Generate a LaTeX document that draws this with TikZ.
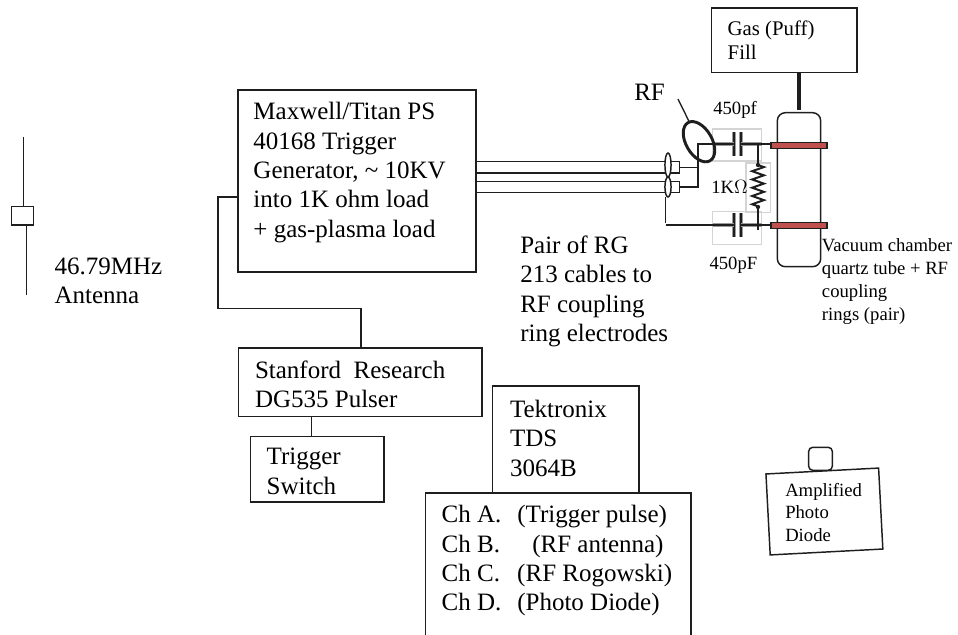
\documentclass[tikz,border=0pt]{standalone}
\usepackage{fontspec}
\setmainfont{Liberation Serif}
\usetikzlibrary{shapes.geometric,decorations.pathmorphing}
\definecolor{ink}{HTML}{1E1E1E}
\definecolor{ringred}{HTML}{C0504D}
\definecolor{hazegrey}{HTML}{D4D4D4}
\definecolor{blurgrey}{HTML}{9A9A9A}

\begin{document}
\begin{tikzpicture}[x=0.75pt, y=-0.75pt]
  % one unit is one pixel of the reference, y runs downward
  \useasboundingbox (0,0) rectangle (958,635);
  \def\flarge{\fontsize{18.75}{22}\selectfont}
  \def\fgas{\fontsize{15.6}{18}\selectfont}
  \def\fsmall{\fontsize{14}{17.2}\selectfont}
  \tikzset{
    blockbox/.style={draw=ink, line width=1.1pt, anchor=north west, inner ysep=0pt,
                     outer sep=0pt, align=flush left, font=\flarge},
    tag/.style={anchor=base west, inner sep=0pt, align=flush left, font=\flarge},
    smalltag/.style={tag, font=\fsmall},
    plainbox/.style={draw=ink, line width=1.1pt, rectangle, inner sep=0pt, outer sep=0pt},
    wire/.style={draw=ink, line width=1.1pt},
    haze/.style={draw=hazegrey, line width=0.9pt, rectangle, inner sep=0pt, outer sep=0pt},
    plate/.style={draw=ink, line width=1.2pt},
    plateblur/.style={draw=blurgrey, line width=3pt},
    ringbar/.style={plainbox, fill=ringred, minimum width=42.2pt, minimum height=4.6pt},
    coaxend/.style={draw=ink, line width=1.1pt, fill=white, ellipse, inner sep=0pt,
                    outer sep=0pt, minimum width=4.6pt}}

  % ---------- antenna ----------
  \node[plainbox, minimum width=16.8pt, minimum height=13.8pt] (antbox) at (22.5,215.8) {};
  \coordinate (anttop) at (23.7,136.7);
  \coordinate (antlow) at (26.3,295);
  \draw[wire] (anttop) -- (anttop |- antbox.north);
  \draw[wire] (antlow |- antbox.south) -- (antlow);
  \node[tag, text width=90pt] (antlabel) at (54.3,274.3) {46.79MHz\\Antenna};

  % ---------- trigger chain ----------
  \node[blockbox, inner xsep=11.6pt, text width=155.3pt, text height=22.5pt, text depth=114pt]
    (maxwell) at (238,90)
    {Maxwell/Titan PS\\40168 Trigger\\Generator, \textasciitilde{} 10KV\\into 1K ohm load\\+ gas-plasma load};
  \node[blockbox, inner xsep=12.4pt, text width=157.8pt, text height=22.5pt, text depth=29pt]
    (stanford) at (238.5,348) {Stanford\ \ Research\\DG535 Pulser};
  \node[blockbox, inner xsep=12pt, text width=76pt, text height=21pt, text depth=28pt]
    (trigger) at (250.7,436.7) {Trigger\\Switch};

  \coordinate (trigtap) at (238,197);
  \coordinate (bendlow) at (218,308.5);
  \coordinate (stanfordtap) at (361,348);
  \coordinate (pulsertap) at (311.7,416.7);
  \draw[wire] (trigtap) -| (bendlow) -| (stanfordtap);
  \draw[wire] (pulsertap) -- (pulsertap |- trigger.north);

  % ---------- scope ----------
  \node[blockbox, inner xsep=13pt, text width=83.7pt, text height=23.5pt, text depth=56.5pt]
    (scope) at (492.7,386) {Tektronix\\TDS\\3064B};
  % bottom edge is off the page, so the outline stays open
  \node[anchor=north west, inner xsep=12.3pt, inner ysep=0pt, outer sep=0pt, align=flush left,
        font=\flarge, text width=174.7pt, text height=22.3pt, text depth=84.2pt]
    (channels) at (425.3,493)
    {Ch A.\hspace{11.9pt}(Trigger pulse)\\
     Ch B.\hspace{24.2pt}(RF antenna)\\
     Ch C.\hspace{12.9pt}(RF Rogowski)\\
     Ch D.\hspace{11.9pt}(Photo Diode)};
  \draw[wire] (channels.south west) -- (channels.north west)
              -- (channels.north east) -- (channels.south east);

  % ---------- photo diode ----------
  \node[plainbox, rotate=3, minimum width=84.6pt, minimum height=60.8pt] (diode) at (824.4,511.5) {};
  \node[plainbox, rounded corners=3pt, minimum width=17.7pt, minimum height=17.2pt] (lens) at (820.5,458.8) {};
  \node[smalltag, text width=70pt] (diodetext) at (785,496.7)
    {\fontsize{14}{16.4}\selectfont Amplified\\Photo\\Diode};

  % ---------- gas and chamber ----------
  \node[blockbox, font=\fgas, inner xsep=12pt, text width=85pt, text height=21pt, text depth=27.5pt]
    (gas) at (711.7,8) {Gas (Puff)\\Fill};
  \node[plainbox, rounded corners=6pt, minimum width=32.5pt, minimum height=115.5pt] (tube) at (799,189.7) {};
  \draw[ink, line width=3pt] (tube.north |- gas.south) -- ([yshift=2pt]tube.north);
  \node[ringbar] (ringa) at (799,145.4) {};
  \node[ringbar] (ringb) at (799,225.4) {};
  \node[smalltag, text width=105pt] (vactext) at (821.7,251.7)
    {Vacuum chamber\\quartz tube + RF\\coupling\\rings (pair)};

  % ---------- capacitors and resistor ----------
  \node[haze, minimum width=36.8pt, minimum height=24pt] (capa) at (737.2,145) {};
  \node[haze, minimum width=36.8pt, minimum height=24.5pt] (capb) at (737.2,228) {};
  \node[haze, minimum width=18.2pt, minimum height=37.2pt] (resbox) at (758.2,187.8) {};
  \coordinate (capaleft) at (734,144);
  \coordinate (caparight) at (741,144);
  \coordinate (capbleft) at (734,225);
  \coordinate (capbright) at (741,225);
  \coordinate (resa) at (758,165);
  \coordinate (resb) at (758,207);
  \coordinate (resjoina) at (758,144);
  \coordinate (resend) at (758,230);
  \foreach \capl/\capr in {capaleft/caparight, capbleft/capbright} {
    \draw[plateblur] ([yshift=9pt]\capl) -- ([yshift=-9pt]\capl);
    \draw[plateblur] ([yshift=9pt]\capr) -- ([yshift=-9pt]\capr);
    \draw[plate] ([yshift=9pt]\capl) -- ([yshift=-9pt]\capl);
    \draw[plate] ([yshift=9pt]\capr) -- ([yshift=-9pt]\capr);
  }
  \draw[blurgrey, line width=2.4pt] (capa.west |- capaleft) -- (capaleft);
  \draw[blurgrey, line width=2.4pt] (caparight) -- (capa.east |- caparight);
  \draw[blurgrey, line width=2.4pt] (capb.west |- capbleft) -- (capbleft);
  \draw[blurgrey, line width=2.4pt] (capbright) -- (capb.east |- capbright);
  \draw[wire] (caparight) -- (ringa.west |- caparight);
  \draw[wire] (capbright) -- (ringb.west |- capbright);
  \draw[wire] (resjoina) -- (resa);
  \draw[ink, line width=1.5pt, decorate, decoration={zigzag, segment length=6.2pt, amplitude=4.4pt}]
    (resa) -- (resb);
  \draw[wire] (resb) -- (resend);
  \fill[ink] (resa) circle (1.6pt) (resb) circle (1.6pt);

  % ---------- coax pair and Rogowski loop ----------
  \node[plainbox, anchor=north west, minimum width=8.5pt, minimum height=8.5pt] (pluga) at (668,161.7) {};
  \node[plainbox, anchor=north west, minimum width=8.5pt, minimum height=8pt] (plugb) at (668,181.7) {};
  \foreach \plugname in {pluga, plugb} {
    \draw[wire] (maxwell.east |- \plugname.north west) -- (\plugname.north west);
    \draw[wire] (maxwell.east |- \plugname.south west) -- (\plugname.south west);
  }
  \node[coaxend, minimum height=18pt] (coaxa) at (668,165) {};
  \node[coaxend, minimum height=15pt] (coaxb) at (668,187) {};
  \node[draw=ink, line width=2.2pt, ellipse, rotate=-60, inner sep=0pt, outer sep=0pt,
        minimum width=33pt, minimum height=19.5pt] (rogowski) at (699,141.7) {};
  \coordinate (rflead) at (678,99);
  \coordinate (rfjoin) at (698,144);
  \coordinate (shieldlow) at (665.7,222.5);
  \draw[ink, line width=1pt] (rflead) -- (rogowski);
  \draw[wire] (capaleft) -- (rfjoin) |- (plugb.east);
  \draw[wire] (pluga.east) -- (rfjoin |- pluga.east);
  \draw[wire] (shieldlow |- coaxb.south) -- (shieldlow);
  \draw[wire] (shieldlow |- capbleft) -- (capbleft);

  % ---------- loose labels ----------
  \node[tag, text width=150pt, font=\fontsize{18.75}{22.1}\selectfont] (pairtext) at (520,253.3)
    {Pair of RG\\213 cables to\\RF coupling\\ring electrodes};
  \node[tag, text width=30pt] (rflabel) at (634,100.7) {RF};
  \node[smalltag, text width=40pt] (capatext) at (713,114.3) {450pf};
  \node[smalltag, text width=40pt] (capbtext) at (709.3,269.3) {450pF};
  \node[smalltag, text width=30pt] (restext) at (711,194) {1K$\Omega$};
\end{tikzpicture}
\end{document}
